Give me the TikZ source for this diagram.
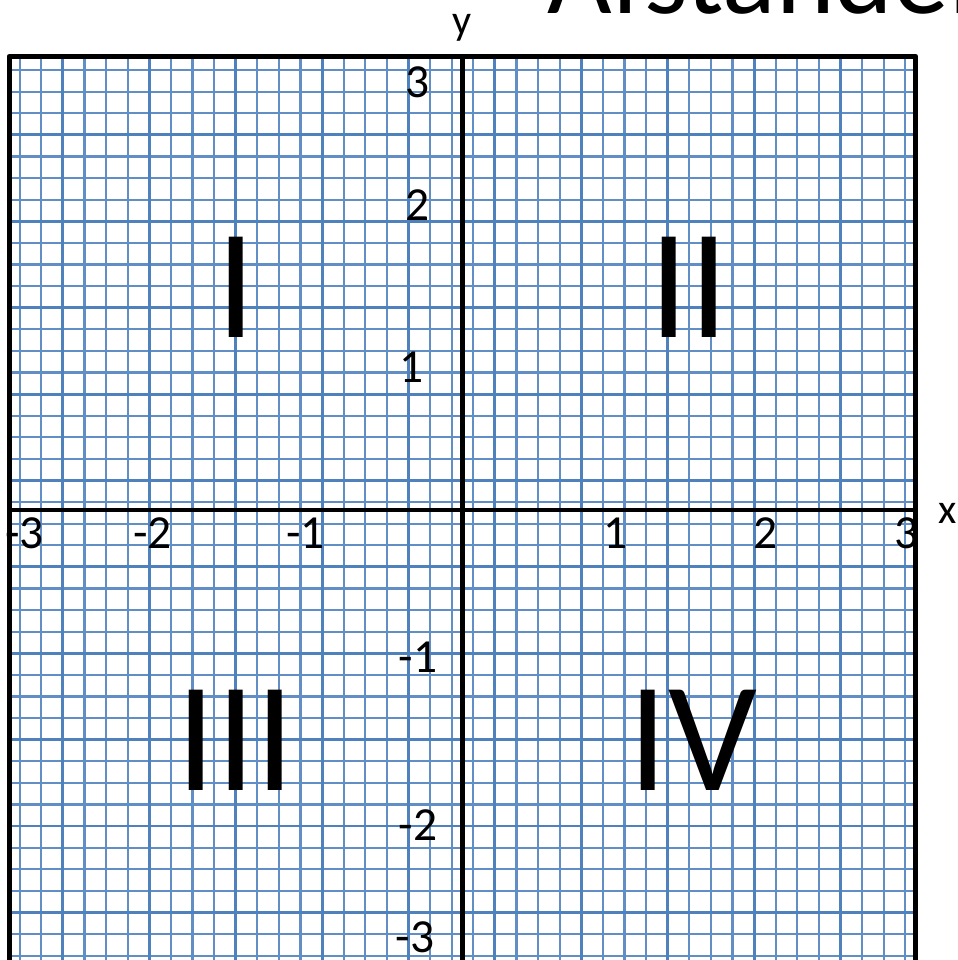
\documentclass[tikz,border=0pt]{standalone}
\usepackage{fontspec}
\setmainfont{Carlito}
\usetikzlibrary{positioning}

\definecolor{gridblue}{RGB}{79,129,189}

\begin{document}
\begin{tikzpicture}[
    x=3cm, y=3cm,
    minorline/.style={gridblue!90, line width=1.25pt},
    majorline/.style={gridblue, line width=1.7pt},
    axisline/.style={black, line width=2.8pt, line join=round},
    tick_label/.style={font=\fontsize{27}{27}\selectfont, inner sep=0pt, anchor=base},
    axis_label/.style={font=\fontsize{24}{24}\selectfont, inner sep=0pt, anchor=base},
    quadrant/.style={font=\fontsize{89}{89}\selectfont, inner sep=0pt, anchor=base}
]

% Paso de la cuadricula y semiancho del marco
\def\gstep{0.144}
\def\half{3.023}

\useasboundingbox (-3.0833,-3.0) rectangle (3.2967,3.4);
\clip (-3.0833,-3.0) rectangle (3.2967,3.4);

\coordinate (NW) at (-\half,\half);
\coordinate (SE) at (\half,-\half);
\coordinate (W) at (-\half,0);
\coordinate (E) at (\half,0);
\coordinate (N) at (0,\half);
\coordinate (S) at (0,-\half);

% ==========================
% CUADRICULA
% ==========================
\foreach \k in {-21,...,20} {
    \draw[minorline] ({(\k+0.5)*\gstep},-\half) -- ({(\k+0.5)*\gstep},\half);
    \draw[minorline] (-\half,{(\k+0.37)*\gstep}) -- (\half,{(\k+0.37)*\gstep});
}
\foreach \k in {-19,-15,...,17} {
    \draw[majorline] ({(\k+0.5)*\gstep},-\half) -- ({(\k+0.5)*\gstep},\half);
    \draw[majorline] (-\half,{(\k+0.37)*\gstep}) -- (\half,{(\k+0.37)*\gstep});
}

% ==========================
% CUADRANTES
% ==========================
\node[quadrant] (q1) at (-1.51,1.153) {I};
\node[quadrant] (q2) at (1.51,1.153) {II};
\node[quadrant] (q3) at (-1.51,-1.867) {III};
\node[quadrant] (q4) at (1.537,-1.867) {IV};

% ==========================
% ETIQUETAS DE LOS EJES
% ==========================
\foreach \v/\xpos in {-3/-2.92, -2/-2.067, -1/-1.047, 1/1.023, 2/2.023, 3/2.957} {
    \node[tick_label] (xt\v) at (\xpos,-0.26) {\v};
}
\foreach \v/\xpos/\ypos in {3/-0.297/2.753, 2/-0.297/1.933, 1/-0.343/0.853,
    -1/-0.297/-1.08, -2/-0.297/-2.2, -3/-0.317/-2.947} {
    \node[tick_label] (yt\v) at (\xpos,\ypos) {\v};
}
\node[axis_label] (ylab) at (0,3.173) {y};
\node[axis_label] (xlab) at (3.237,-0.087) {x};

% Titulo (cortado arriba)
\node[font=\fontsize{63.5}{63.5}\selectfont, inner sep=0pt, anchor=base west] (title) at (0.563,3.307) {Afstanden};

% ==========================
% EJES Y MARCO
% ==========================
\draw[axisline] (W) -- (E);
\draw[axisline] (S) -- (N);
\draw[axisline] (NW) rectangle (SE);

\end{tikzpicture}
\end{document}
